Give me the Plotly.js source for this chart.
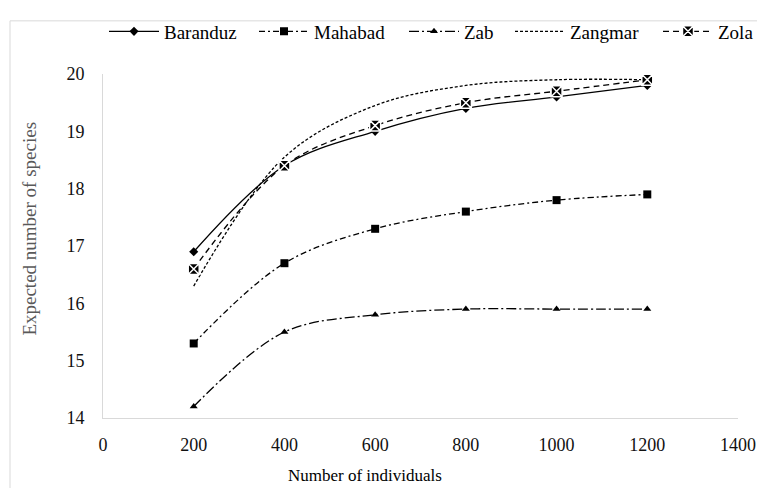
<!DOCTYPE html>
<html>
<head>
<meta charset="utf-8">
<script src="https://cdn.plot.ly/plotly-3.0.1.min.js"></script>
<style>
html,body{margin:0;padding:0;overflow:hidden;background:#fff;}
#wrap{width:757px;height:488px;overflow:hidden;}
#chart{width:790px;height:488px;}
#chart svg text{font-family:"Times New Roman","Liberation Serif",serif !important;}
</style>
</head>
<body>
<div id="wrap"><div id="chart"></div></div>
<script>
// ---- data ----
const individuals = [200, 400, 600, 800, 1000, 1200];
const seriesNames = ["Baranduz", "Mahabad", "Zab", "Zangmar", "Zola"];
const baranduz = [16.9, 18.4, 19.0, 19.4, 19.6, 19.8];
const mahabad  = [15.3, 16.7, 17.3, 17.6, 17.8, 17.9];
const zab      = [14.2, 15.5, 15.8, 15.9, 15.9, 15.9];
const zangmar  = [16.3, 18.55, 19.45, 19.8, 19.9, 19.9];
const zola     = [16.6, 18.4, 19.1, 19.5, 19.7, 19.9];
const xTicks = [0, 200, 400, 600, 800, 1000, 1200, 1400];
const yTicks = [14, 15, 16, 17, 18, 19, 20];
const xTitle = "Number of individuals";
const yTitle = "Expected number of species";

const FONT = "Times New Roman";
const W = 790, H = 488;
const L = 103, R = 738, T = 62, B = 418;
const px2x = p => (p - L) / (R - L);
const px2y = p => (B - p) / (B - T);

const lineBase = {shape: "spline", smoothing: 1, width: 1.3, color: "#000"};
function mk(name, y, dash, marker, legendId) {
  const t = {x: individuals, y: y, name: name, type: "scatter",
    mode: marker ? "lines+markers" : "lines",
    line: Object.assign({}, lineBase, {dash: dash}), legend: legendId};
  if (marker) t.marker = marker;
  return t;
}

const traces = [
  mk(seriesNames[0], baranduz, "solid", {symbol: "diamond", size: 7, color: "#000"}, "legend"),
  mk(seriesNames[1], mahabad, "6px,3px,2px,3px", {symbol: "square", size: 8, color: "#000"}, "legend2"),
  mk(seriesNames[2], zab, "10px,3px,2px,3px", {symbol: "triangle-up", size: 7, color: "#000"}, "legend3"),
  mk(seriesNames[3], zangmar, "3px,2px", null, "legend4"),
  mk(seriesNames[4], zola, "6px,4px", {symbol: "square-x", size: 11, color: "#000", line: {color: "#fff", width: 1.5}}, "legend5")
];

// left edge (px) of each legend entry
const legLeft = [104, 254, 404, 510, 658];
function leg(i) {
  return {orientation: "h", x: px2x(legLeft[i]), xanchor: "left", y: px2y(18), yanchor: "middle",
    font: {family: FONT, size: 19, color: "#000"}, bgcolor: "rgba(0,0,0,0)", itemwidth: 50,
    borderwidth: 0};
}

const layout = {
  width: W, height: H,
  margin: {l: L, r: W - R, t: T, b: H - B, pad: 0},
  paper_bgcolor: "#fff", plot_bgcolor: "#fff",
  showlegend: true,
  legend: leg(0), legend2: leg(1), legend3: leg(2), legend4: leg(3), legend5: leg(4),
  xaxis: {range: [0, 1400], tickvals: xTicks, ticktext: xTicks.map(String),
    showgrid: false, zeroline: false, showline: true, linecolor: "#d9d9d9", linewidth: 1,
    ticks: "", ticklabelstandoff: 10, tickfont: {family: FONT, size: 18, color: "#111"}, fixedrange: true},
  yaxis: {range: [14, 20], tickvals: yTicks, ticktext: yTicks.map(String),
    showgrid: false, zeroline: false, showline: true, linecolor: "#d9d9d9", linewidth: 1,
    ticks: "", ticklabelstandoff: 14, tickfont: {family: FONT, size: 18, color: "#111"}, fixedrange: true},
  annotations: [
    {text: xTitle, xref: "paper", yref: "paper", x: px2x(365), y: px2y(477),
     xanchor: "center", yanchor: "middle", showarrow: false,
     font: {family: FONT, size: 17, color: "#000"}},
    {text: yTitle, xref: "paper", yref: "paper", x: px2x(30), y: px2y(222),
     xanchor: "center", yanchor: "middle", showarrow: false, textangle: -90,
     font: {family: FONT, size: 19, color: "#595959"}}
  ],
  shapes: [
    {type: "rect", xref: "paper", yref: "paper", x0: px2x(10), x1: px2x(785), y0: px2y(7), y1: px2y(500),
     line: {color: "#d9d9d9", width: 1}, fillcolor: "rgba(0,0,0,0)", layer: "below"}
  ]
};

Plotly.newPlot("chart", traces, layout, {displayModeBar: false, staticPlot: true});
</script>
</body>
</html>
